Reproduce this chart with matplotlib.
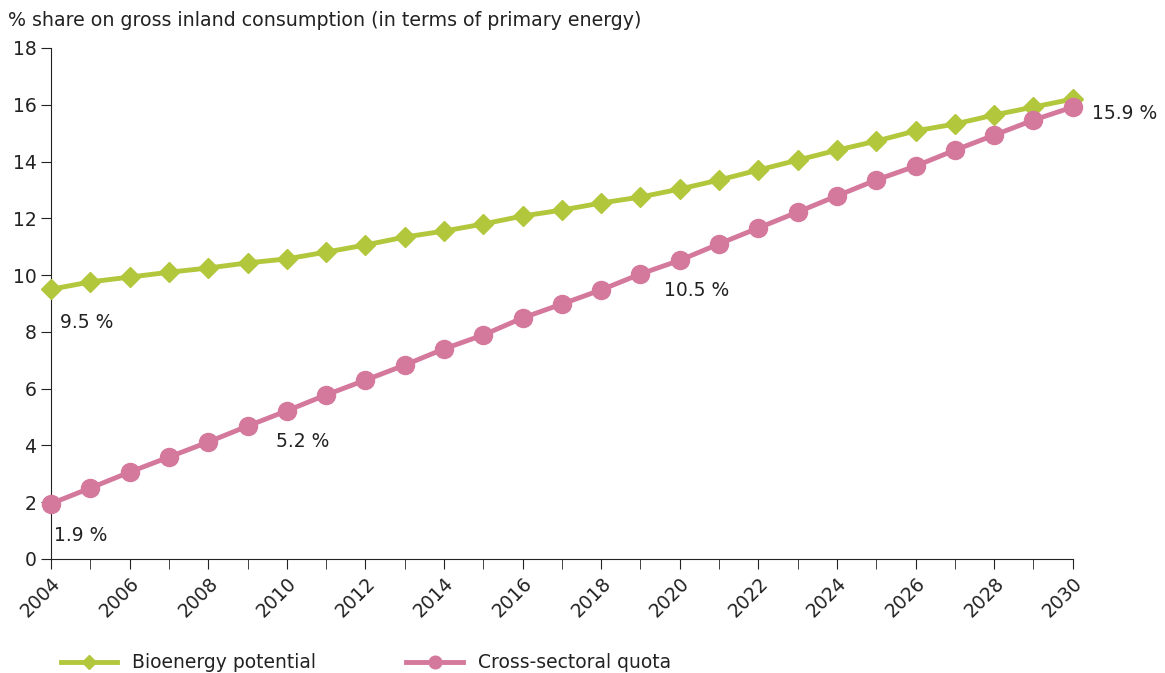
import matplotlib.pyplot as plt

years = list(range(2004, 2031))
bioenergy = [9.5, 9.76, 9.93, 10.1, 10.25, 10.43, 10.57, 10.81, 11.06, 11.34,
             11.55, 11.8, 12.08, 12.29, 12.54, 12.75, 13.03, 13.35, 13.7, 14.05,
             14.4, 14.72, 15.08, 15.32, 15.64, 15.92, 16.2]
quota = [1.95, 2.5, 3.06, 3.59, 4.12, 4.68, 5.22, 5.78, 6.3, 6.83,
         7.4, 7.89, 8.49, 8.98, 9.48, 10.04, 10.52, 11.1, 11.66, 12.22,
         12.79, 13.35, 13.84, 14.4, 14.93, 15.46, 15.92]

# value labels: (year, value, text, x offset pt, y offset pt)
quota_labels = [(2004, 1.95, '1.9 %', 2, -23), (2010, 5.22, '5.2 %', -8, -22),
                (2020, 10.52, '10.5 %', -11, -22), (2030, 15.92, '15.9 %', 14, -5)]
bio_labels = [(2004, 9.5, '9.5 %', 6.5, -24)]

green = '#b2c73c'
pink = '#d4789c'
text_col = '#222222'

plt.rcParams['font.family'] = ['DejaVu Sans']
fig = plt.figure(figsize=(11.65, 6.73), dpi=100)
ax = fig.add_axes([0.0438, 0.1694, 0.877, 0.7593])

ax.plot(years, bioenergy, color=green, lw=3.5, marker='D', markersize=10,
        label='Bioenergy potential', clip_on=False, zorder=3)
ax.plot(years, quota, color=pink, lw=3.5, marker='o', markersize=13,
        label='Cross-sectoral quota', clip_on=False, zorder=4)

for x, v, s, dx, dy in quota_labels + bio_labels:
    ax.annotate(s, (x, v), xytext=(dx, dy), textcoords='offset points',
                fontsize=13.5, color=text_col, ha='left', va='center')

ax.set_xlim(2004, 2030)
ax.set_ylim(0, 18)
ax.set_yticks(range(0, 19, 2))
ax.set_xticks(years, minor=True)
ax.set_xticks(range(2004, 2031, 2))
ax.tick_params(axis='x', which='both', direction='out', length=7, colors=text_col)
ax.tick_params(axis='y', direction='out', length=7, colors=text_col)
ax.tick_params(labelsize=13.5)
for lbl in ax.get_xticklabels():
    lbl.set_rotation(45)
    lbl.set_ha('right')
    lbl.set_rotation_mode('anchor')
for side in ['top', 'right']:
    ax.spines[side].set_visible(False)
for side in ['left', 'bottom']:
    ax.spines[side].set_color(text_col)

fig.text(0.007, 0.97, '% share on gross inland consumption (in terms of primary energy)',
         fontsize=13.7, color=text_col, va='center')

fig.legend(loc='center left', bbox_to_anchor=(0.038, 0.015), ncol=2, frameon=False,
           fontsize=13.5, handlelength=3, columnspacing=4.8, labelcolor=text_col,
           markerscale=0.7)

fig.savefig('out.png', dpi=100)
